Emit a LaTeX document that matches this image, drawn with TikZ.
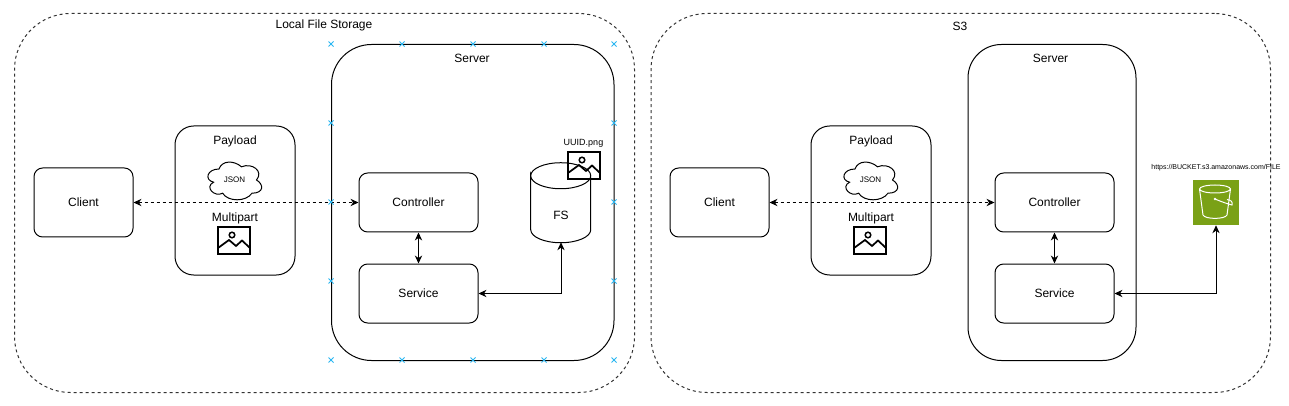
\documentclass[tikz,border=0pt]{standalone}
\usepackage{fontspec}
\setmainfont{Liberation Sans}
\usetikzlibrary{arrows.meta,shapes.misc}
\definecolor{awsgreen}{HTML}{7AA116}
\definecolor{crossblue}{HTML}{29B6F2}
\newcommand{\imgicon}[2]{%
  \begin{scope}[shift={(#1,#2)},line width=1.5pt,line join=miter]
    \draw (0,0) rectangle (32,27);
    \draw[line width=1.1pt] (14,8) circle[radius=2.8];
    \draw[line width=1.3pt] (0,21) -- (11,13) -- (18,19) -- (24,13.5) -- (32,21);
  \end{scope}}
\newcommand{\cloudicon}[4]{%
  \begin{scope}[shift={(#1,#2)},x=#3*0.75pt,y=-#4*0.75pt]
    \draw[cloudline] (.25,.25) .. controls (.05,.25) and (0,.5) .. (.16,.55)
      .. controls (0,.66) and (.18,.9) .. (.31,.8)
      .. controls (.4,1) and (.7,1) .. (.8,.8)
      .. controls (1,.8) and (1,.6) .. (.875,.5)
      .. controls (1,.3) and (.8,.1) .. (.625,.2)
      .. controls (.5,.05) and (.3,.05) .. (.25,.25) -- cycle;
  \end{scope}}
\tikzset{
  cloudline/.style={line width=0.75pt,draw=black},
  sized/.style 2 args={draw=black,line width=0.75pt,inner sep=0pt,
    minimum width=#1*0.75pt,minimum height=#2*0.75pt},
  boxsmall/.style={rounded corners=6.5pt},
  zone/.style={draw=black!80,line width=0.75pt,dash pattern=on 2.25pt off 2.25pt,rounded corners=42pt},
  txt/.style={font=\fontsize{9}{10}\selectfont,inner sep=0pt},
  midtxt/.style={font=\fontsize{6.75}{8}\selectfont,inner sep=0pt},
  small/.style={font=\fontsize{6}{7}\selectfont,inner sep=0pt},
  tiny/.style={font=\fontsize{5.25}{6}\selectfont,inner sep=0pt},
  link/.style={line width=0.75pt,{Stealth[length=6pt,width=5.5pt]}-{Stealth[length=6pt,width=5.5pt]}},
  dashlink/.style={link,dash pattern=on 2.25pt off 2.25pt},
  crossmark/.style={cross out,draw=crossblue,line width=0.75pt,inner sep=0pt,minimum size=3pt},
}
\begin{document}
\begin{tikzpicture}[x=0.75pt,y=-0.75pt]
\useasboundingbox[fill=white] (0,0) rectangle (1289,406);

% zones
\node[sized={620}{379},zone,anchor=north west] (zoneL) at (14,13) {};
\node[sized={619.5}{379},zone,anchor=north west] (zoneR) at (650.5,13) {};
\node[txt] (zoneLt) at (324,25.5) {Local File Storage};
\node[txt] (zoneRt) at (960,26) {S3};

% servers
\node[sized={282.5}{316},rounded corners=30pt,anchor=north west] (srvL) at (331,44) {};
\node[sized={168}{316},rounded corners=25pt,anchor=north west] (srvR) at (967.5,44) {};
\node[txt] (srvLt) at (472,58) {Server};
\node[txt] (srvRt) at (1050.5,58) {Server};

% clients
\node[sized={99}{69},boxsmall,txt] (clientL) at (83.5,202.5) {Client};
\node[sized={99}{69},boxsmall,txt] (clientR) at (719.5,202.5) {Client};

% payloads
\node[sized={120}{149},rounded corners=14pt] (payL) at (235,200.5) {};
\node[sized={120}{149},rounded corners=14pt] (payR) at (871,200.5) {};
\node[txt] (payLt) at (235,141) {Payload};
\node[txt] (payRt) at (871,141) {Payload};
\node[txt] (mpL) at (235,218) {Multipart};
\node[txt] (mpR) at (871,218) {Multipart};
\cloudicon{204}{158}{60}{44}
\cloudicon{840}{158}{60}{44}
\node[small] (jsonL) at (234.5,179.5) {JSON};
\node[small] (jsonR) at (870.5,179.5) {JSON};
\imgicon{218}{227}
\imgicon{854}{227}

% controllers and services
\node[sized={119}{59},boxsmall,txt] (ctlL) at (418.5,202.5) {Controller};
\node[sized={119}{59},boxsmall,txt] (svcL) at (418.5,293.5) {Service};
\node[sized={119}{59},boxsmall,txt] (ctlR) at (1054.5,202.5) {Controller};
\node[sized={119}{59},boxsmall,txt] (svcR) at (1054.5,293.5) {Service};

% file store
\node[inner sep=0pt,minimum width=60*0.75pt,minimum height=79*0.75pt] (fs) at (561,202.5) {};
\draw[line width=0.75pt] (fs.north west) ++(0,13) arc[start angle=180,end angle=-180,x radius=30,y radius=-13]
  -- ++(0,54) arc[start angle=180,end angle=360,x radius=30,y radius=-13] -- ++(0,-54);
\node[txt] (fst) at (561,215) {FS};
\imgicon{568}{152}
\node[midtxt] (uuid) at (583.5,143) {UUID.png};

% bucket
\node[fill=awsgreen,inner sep=0pt,minimum width=46*0.75pt,minimum height=45*0.75pt] (bucket) at (1216,202.5) {};
\draw[white,line width=0.75pt] (1215,189) ellipse[x radius=15.5,y radius=4];
\draw[white,line width=0.75pt] (1199.5,189) -- (1203,215) .. controls (1205,219.5) and (1225,219.5) .. (1227,215) -- (1230.5,189);
\draw[white,line width=0.75pt] (1215,199) .. controls (1222,202) and (1228,204) .. (1232,205)
  .. controls (1233,202) and (1231,200) .. (1227,199.5);
\fill[white] (1215,199) circle[radius=1.4];
\node[tiny] (url) at (1216,167.5) {https://BUCKET.s3.amazonaws.com/FILE};

% connectors
\draw[dashlink] (clientL.east) -- (ctlL.west);
\draw[dashlink] (clientR.east) -- (ctlR.west);
\draw[link] (ctlL.south) -- (svcL.north);
\draw[link] (ctlR.south) -- (svcR.north);
\draw[link] (svcL.east) -| (fs.south);
\draw[link] (svcR.east) -| (bucket.south);

% selection marks
\foreach \cx [count=\i] in {331,402,473,544,614}{
  \node[crossmark] (top\i) at (\cx,44) {};
  \node[crossmark] (bot\i) at (\cx,360) {};
}
\foreach \cy [count=\i] in {123,202,281}{
  \node[crossmark] (lft\i) at (331,\cy) {};
  \node[crossmark] (rgt\i) at (614,\cy) {};
}
\end{tikzpicture}
\end{document}
